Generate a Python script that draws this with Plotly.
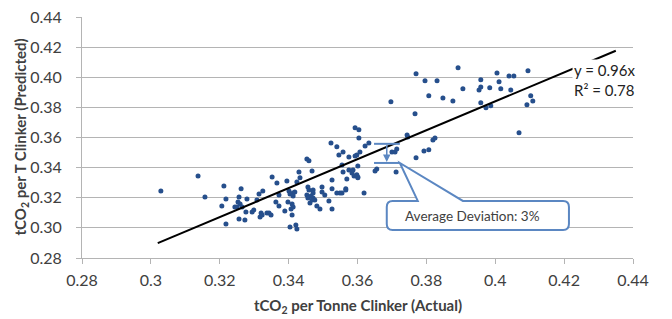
import plotly.graph_objects as go

# Actual vs predicted tCO2 per tonne clinker
actual = [
    0.3029, 0.3137, 0.3157, 0.3212, 0.3206, 0.3218, 0.3218, 0.3262, 0.3256, 0.3253,
    0.3259, 0.3250, 0.3244, 0.3265, 0.3279, 0.3276, 0.3256, 0.3273, 0.3308, 0.3314,
    0.3325, 0.3294, 0.3299, 0.3320, 0.3317, 0.3337, 0.3343, 0.3523, 0.3540, 0.3558,
    0.3546, 0.3575, 0.3598, 0.3604, 0.3453, 0.3459, 0.3468, 0.3430, 0.3352, 0.3366,
    0.3395, 0.3433, 0.3424, 0.3555, 0.3558, 0.3575, 0.3584, 0.3590, 0.3601, 0.3569,
    0.3526, 0.3401, 0.3404, 0.3413, 0.3418, 0.3456, 0.3459, 0.3471, 0.3497, 0.3497,
    0.3526, 0.3540, 0.3549, 0.3555, 0.3566, 0.3453, 0.3465, 0.3471, 0.3476, 0.3456,
    0.3413, 0.3372, 0.3363, 0.3372, 0.3398, 0.3410, 0.3413, 0.3389, 0.3407, 0.3462,
    0.3482, 0.3491, 0.3517, 0.3526, 0.3505, 0.3323, 0.3349, 0.3410, 0.3404, 0.3421,
    0.3424, 0.3471, 0.3468, 0.3697, 0.3807, 0.3767, 0.3593, 0.3604, 0.3622, 0.3633,
    0.3744, 0.3746, 0.3819, 0.3825, 0.3807, 0.3793, 0.3770, 0.3700, 0.3709, 0.3714,
    0.3712, 0.3656, 0.3651, 0.3619, 0.3607, 0.3593, 0.3601, 0.3587, 0.3598, 0.3601,
    0.3566, 0.3892, 0.3796, 0.3831, 0.3958, 0.4005, 0.4040, 0.4054, 0.4095, 0.3848,
    0.3877, 0.3906, 0.3953, 0.3958, 0.3984, 0.4011, 0.4016, 0.4045, 0.3958, 0.3973,
    0.3987, 0.4092, 0.4069, 0.4103, 0.4109, 0.3770,
]
predicted = [
    0.3245, 0.3345, 0.3205, 0.3278, 0.3146, 0.3192, 0.3026, 0.3259, 0.3205, 0.3172,
    0.3159, 0.3139, 0.3139, 0.3139, 0.3192, 0.3106, 0.3059, 0.3053, 0.3185, 0.3225,
    0.3245, 0.3106, 0.3119, 0.3099, 0.3072, 0.3099, 0.3099, 0.3564, 0.3538, 0.3504,
    0.3484, 0.3471, 0.3484, 0.3651, 0.3458, 0.3445, 0.3378, 0.3371, 0.3338, 0.3298,
    0.3312, 0.3332, 0.3305, 0.3418, 0.3371, 0.3385, 0.3365, 0.3345, 0.3338, 0.3325,
    0.3318, 0.3245, 0.3225, 0.3232, 0.3239, 0.3272, 0.3252, 0.3252, 0.3272, 0.3239,
    0.3259, 0.3232, 0.3232, 0.3232, 0.3252, 0.3219, 0.3212, 0.3199, 0.3185, 0.3199,
    0.3212, 0.3219, 0.3172, 0.3146, 0.3172, 0.3159, 0.3139, 0.3112, 0.3126, 0.3165,
    0.3146, 0.3126, 0.3179, 0.3126, 0.3219, 0.3086, 0.3086, 0.3086, 0.3006, 0.3019,
    0.2993, 0.3232, 0.3185, 0.3837, 0.3877, 0.3757, 0.3664, 0.3597, 0.3544, 0.3564,
    0.3617, 0.3604, 0.3584, 0.3597, 0.3518, 0.3511, 0.3465, 0.3504, 0.3504, 0.3524,
    0.3371, 0.3391, 0.3378, 0.3232, 0.3504, 0.3478, 0.3411, 0.3385, 0.3352, 0.3332,
    0.3259, 0.4063, 0.3976, 0.3976, 0.3983, 0.4029, 0.4009, 0.4009, 0.4043, 0.3863,
    0.3843, 0.3923, 0.3916, 0.3936, 0.3930, 0.3970, 0.3923, 0.3916, 0.3830, 0.3797,
    0.3810, 0.3817, 0.3631, 0.3877, 0.3843, 0.4023,
]

slope = 0.96
trend_x = [0.302, 0.435]
trend_y = [slope * v for v in trend_x]

x_ticks = [0.28, 0.30, 0.32, 0.34, 0.36, 0.38, 0.40, 0.42, 0.44]
x_tick_labels = ["0.28", "0.3", "0.32", "0.34", "0.36", "0.38", "0.4", "0.42", "0.44"]
y_ticks = [0.28, 0.30, 0.32, 0.34, 0.36, 0.38, 0.40, 0.42, 0.44]
y_tick_labels = ["0.28", "0.30", "0.32", "0.34", "0.36", "0.38", "0.40", "0.42", "0.44"]

FONT = "Lato, 'Open Sans', sans-serif"
GRID = "#b4b4b4"
BLUE = "#5b87c2"
TXT = "#404040"

fig = go.Figure()
fig.add_trace(go.Scatter(
    x=actual, y=predicted, mode="markers",
    marker=dict(size=5, color="#264f8c"),
    showlegend=False, hoverinfo="x+y",
))
fig.add_trace(go.Scatter(
    x=trend_x, y=trend_y, mode="lines",
    line=dict(color="black", width=2),
    showlegend=False, hoverinfo="skip",
))

# Equation label (white background hides trend line behind it)
fig.add_annotation(
    x=0.4222, y=0.3983, xref="x", yref="y", xanchor="left", yanchor="middle",
    text="y = 0.96x<br>R² = 0.78", showarrow=False, align="left",
    font=dict(family=FONT, size=15, color="#222222"), bgcolor="white",
)

# Deviation bracket
bx0, bx1, bxm = 0.3648, 0.3723, 0.3685
by_top, by_bot = 0.3558, 0.3431
for yy in (by_top, by_bot):
    fig.add_shape(type="line", x0=bx0, x1=bx1, y0=yy, y1=yy, xref="x", yref="y",
                  line=dict(color=BLUE, width=2))
fig.add_annotation(
    x=bxm, y=by_bot + 0.0007, ax=bxm, ay=by_top, xref="x", yref="y", axref="x", ayref="y",
    showarrow=True, arrowhead=2, arrowsize=1, arrowwidth=1.5, arrowcolor=BLUE, text="",
)

# Callout box with pointer
L, R, T, B = 0.3685, 0.4214, 0.3179, 0.2986
rx, ry = 0.0017, 0.004
path = (
    f"M {L+rx},{T} L 0.3775,{T} L 0.3723,0.3431 L 0.3906,{T} L {R-rx},{T} "
    f"Q {R},{T} {R},{T-ry} L {R},{B+ry} Q {R},{B} {R-rx},{B} "
    f"L {L+rx},{B} Q {L},{B} {L},{B+ry} L {L},{T-ry} Q {L},{T} {L+rx},{T} Z"
)
fig.add_shape(type="path", path=path, xref="x", yref="y",
              line=dict(color=BLUE, width=2), fillcolor="white", layer="above")
fig.add_annotation(
    x=0.3935, y=(T + B) / 2 - 0.0003, xref="x", yref="y",
    text="Average Deviation: 3%", showarrow=False,
    font=dict(family=FONT, size=13.5, color=TXT),
)

# Axis titles as paper annotations (fixed positions)
fig.add_annotation(
    x=(357.5 - 82) / 551, y=-(306 - 258) / 241, xref="paper", yref="paper",
    xanchor="center", yanchor="middle", showarrow=False,
    text="<b>tCO<sub>2</sub> per Tonne Clinker (Actual)</b>",
    font=dict(family=FONT, size=15, color=TXT),
)
fig.add_annotation(
    x=-(82 - 20) / 551, y=0.5, xref="paper", yref="paper",
    xanchor="center", yanchor="middle", showarrow=False, textangle=-90,
    text="<b>tCO<sub>2</sub> per T Clinker (Predicted)</b>",
    font=dict(family=FONT, size=15, color=TXT),
)

fig.update_layout(
    width=672, height=319,
    margin=dict(l=82, r=39, t=17, b=61, autoexpand=False),
    paper_bgcolor="white", plot_bgcolor="white",
    font=dict(family=FONT, size=16, color=TXT),
)
fig.update_xaxes(
    range=[0.28, 0.44], tickvals=x_ticks, ticktext=x_tick_labels,
    showgrid=False, zeroline=False, automargin=False,
    showline=True, linecolor=GRID, linewidth=1,
    ticks="outside", ticklen=5, tickcolor=GRID,
    tickfont=dict(family=FONT, size=16, color=TXT), ticklabelstandoff=3,
)
fig.update_yaxes(
    range=[0.28, 0.44], tickvals=y_ticks, ticktext=y_tick_labels,
    showgrid=True, gridcolor=GRID, gridwidth=1, zeroline=False, automargin=False,
    showline=True, linecolor=GRID, linewidth=1,
    ticks="outside", ticklen=5, tickcolor=GRID,
    tickfont=dict(family=FONT, size=16, color=TXT), ticklabelstandoff=11,
)

fig.write_html(
    "out.html",
    config={"displayModeBar": False},
    post_script="document.body.style.margin='0';document.body.style.padding='0';",
)
